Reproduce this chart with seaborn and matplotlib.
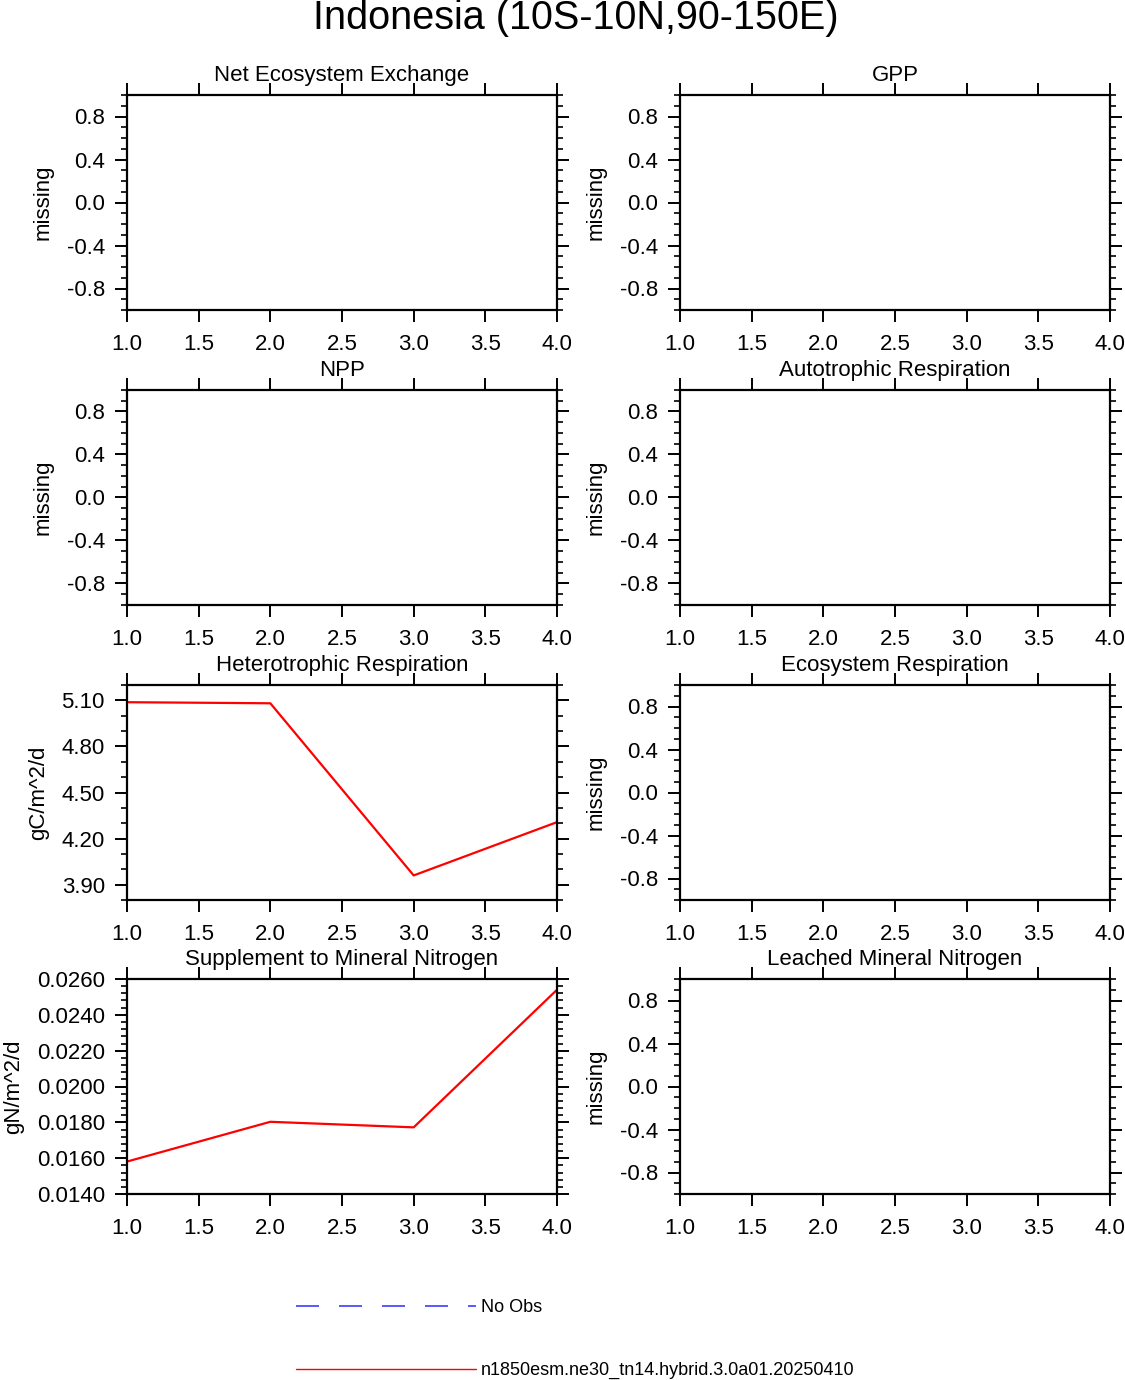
import numpy as np
import pandas as pd
import matplotlib
matplotlib.use("Agg")
import matplotlib.pyplot as plt
from matplotlib.lines import Line2D
from matplotlib.ticker import MultipleLocator, FormatStrFormatter
import seaborn as sns

# ---------------- data ----------------
main_title = "Indonesia (10S-10N,90-150E)"
panel_titles = ["Net Ecosystem Exchange", "GPP", "NPP", "Autotrophic Respiration",
                "Heterotrophic Respiration", "Ecosystem Respiration",
                "Supplement to Mineral Nitrogen", "Leached Mineral Nitrogen"]
panel_units = ["missing", "missing", "missing", "missing",
               "gC/m^2/d", "missing", "gN/m^2/d", "missing"]
years = [1, 2, 3, 4]
hr_values = [5.088, 5.081, 3.960, 4.307]          # Heterotrophic Respiration
sminn_values = [0.01581, 0.01803, 0.01772, 0.02540]  # Supplement to Mineral Nitrogen
series_values = {4: hr_values, 6: sminn_values}
model_name = "n1850esm.ne30_tn14.hybrid.3.0a01.20250410"
obs_name = "No Obs"

# ---------------- style ----------------
sns.set_style("ticks")
plt.rcParams["font.family"] = ["Liberation Sans", "DejaVu Sans"]
plt.rcParams["axes.unicode_minus"] = False
plt.rcParams["text.color"] = "black"
plt.rcParams["axes.labelcolor"] = "black"
plt.rcParams["xtick.color"] = "black"
plt.rcParams["ytick.color"] = "black"

W, H = 1125, 1380
fig = plt.figure(figsize=(W / 100, H / 100), dpi=100)

col_left = [127, 680]
row_top = [95, 390, 685, 979]
ax_w, ax_h = 430, 215

# y-axis settings per panel: (ymin, ymax, major, minor, fmt)
yspec_missing = (-1.0, 1.0, 0.4, 0.1, "%.1f")
yspec = {4: (3.80, 5.20, 0.30, 0.10, "%.2f"),
         6: (0.0140, 0.0260, 0.0020, 0.0004, "%.4f")}

for i, title in enumerate(panel_titles):
    r, c = divmod(i, 2)
    x0 = col_left[c] / W
    y0 = 1 - (row_top[r] + ax_h) / H
    ax = fig.add_axes([x0, y0, ax_w / W, ax_h / H])

    if i in series_values:
        df = pd.DataFrame({"year": years, "value": series_values[i]})
        sns.lineplot(data=df, x="year", y="value", ax=ax, color="red", lw=1.6)
    ymin, ymax, maj, mnr, fmt = yspec.get(i, yspec_missing)

    ax.set_xlim(1, 4)
    ax.set_ylim(ymin, ymax)
    ax.xaxis.set_major_locator(MultipleLocator(0.5))
    ax.xaxis.set_major_formatter(FormatStrFormatter("%.1f"))
    if i in yspec:
        ax.yaxis.set_major_locator(MultipleLocator(maj))
    else:
        ax.set_yticks([-0.8, -0.4, 0.0, 0.4, 0.8])
    ax.yaxis.set_minor_locator(MultipleLocator(mnr))
    ax.yaxis.set_major_formatter(FormatStrFormatter(fmt))

    for sp in ax.spines.values():
        sp.set_visible(True)
        sp.set_linewidth(1.6)
        sp.set_color("black")
    ax.tick_params(axis="both", which="major", direction="out", length=8.5,
                   width=1.4, labelsize=16, colors="black")
    ax.tick_params(axis="y", which="both", left=True, right=True,
                   labelright=False)
    ax.tick_params(axis="y", which="minor", direction="out", length=4.5, width=1.2)
    ax.tick_params(axis="x", which="both", top=True, bottom=True,
                   labeltop=False, pad=9)
    ax.tick_params(axis="y", which="major", pad=7.5)
    ax.set_xlabel("")
    ax.set_ylabel(panel_units[i], fontsize=16, labelpad=9, color="black")
    ax.set_title(title, fontsize=16, pad=10, color="black")

fig.text(576 / W, 1 - 18 / H, main_title, fontsize=28.5, ha="center",
         va="center", color="black")

handles = [Line2D([], [], color="#3c3cff", lw=1.2, linestyle=(0, (13.8, 12.0))),
           Line2D([], [], color="red", lw=1.0)]
fig.legend(handles, [obs_name, model_name], loc="upper left",
           bbox_to_anchor=(296 / W, 1 - 1299 / H), frameon=False,
           fontsize=13, handlelength=9.97, handletextpad=0.28,
           labelspacing=2.55, borderpad=0, borderaxespad=0)

fig.savefig("out.png", dpi=100)
